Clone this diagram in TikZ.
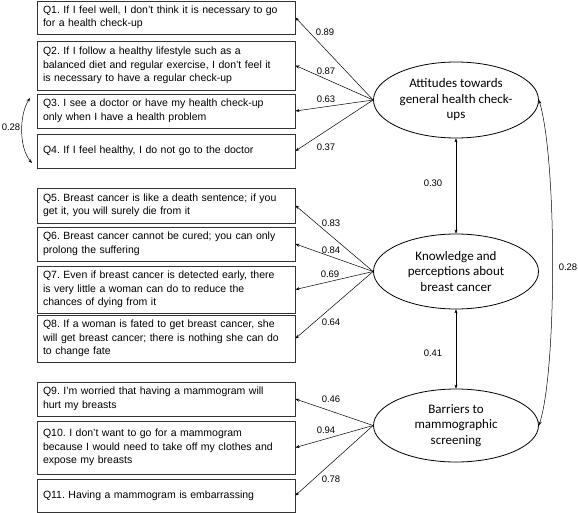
\documentclass[tikz,border=0pt]{standalone}
\usepackage{fontspec}
\setmainfont{Liberation Sans}
\newfontfamily\ellfont{Carlito}
\usetikzlibrary{shapes.geometric,arrows.meta}
\newcommand\qline[1]{\makebox[246pt][l]{#1}}
\begin{document}
\frenchspacing
\begin{tikzpicture}[x=1pt,y=-1pt,
  qbox/.style={draw=black!80,line width=0.9pt,rectangle,inner xsep=6pt,inner ysep=0pt,
    text width=246pt,align=left,minimum width=258pt,font=\fontsize{10.5}{13.5}\selectfont},
  latent/.style={draw=black,line width=0.8pt,ellipse,inner sep=0pt,minimum width=165pt,
    minimum height=76pt,align=center,font=\ellfont\fontsize{13}{15.5}\selectfont},
  arr/.style={-{Stealth[length=4pt,width=3pt]},line width=0.5pt},
  darr/.style={{Stealth[length=4pt,width=3pt]}-{Stealth[length=4pt,width=3pt]},line width=0.5pt},
  lab/.style={font=\fontsize{9.5}{11}\selectfont,inner sep=0pt}]
\useasboundingbox (0,0) rectangle (578,513);
\node[qbox,minimum height=33pt] (q1) at (166,17.5) {\qline{Q1. If I feel well, I don't think it is necessary to go}\\\qline{for a health check-up}};
\node[qbox,minimum height=49pt] (q2) at (166,65.5) {\qline{Q2. If I follow a healthy lifestyle such as a}\\\qline{balanced diet and regular exercise, I don't feel it}\\\qline{is necessary to have a regular check-up}};
\node[qbox,minimum height=34pt] (q3) at (166,111) {\qline{Q3. I see a doctor or have my health check-up}\\\qline{only when I have a health problem}};
\node[qbox,minimum height=34pt] (q4) at (166,151) {\qline{Q4. If I feel healthy, I do not go to the doctor}};
\node[qbox,minimum height=35pt] (q5) at (166,205.5) {\qline{Q5. Breast cancer is like a death sentence; if you}\\\qline{get it, you will surely die from it}};
\node[qbox,minimum height=34pt] (q6) at (166,244) {\qline{Q6. Breast cancer cannot be cured; you can only}\\\qline{prolong the suffering}};
\node[qbox,minimum height=47pt] (q7) at (166,289.5) {\qline{Q7. Even if breast cancer is detected early, there}\\\qline{is very little a woman can do to reduce the}\\\qline{chances of dying from it}};
\node[qbox,minimum height=47pt] (q8) at (166,338.5) {\qline{Q8. If a woman is fated to get breast cancer, she}\\\qline{will get breast cancer; there is nothing she can do}\\\qline{to change fate}};
\node[qbox,minimum height=34pt] (q9) at (166,399) {\qline{Q9. I'm worried that having a mammogram will}\\\qline{hurt my breasts}};
\node[qbox,minimum height=53pt] (q10) at (166,447.5) {\qline{Q10. I don't want to go for a mammogram}\\\qline{because I would need to take off my clothes and}\\\qline{expose my breasts}};
\node[qbox,minimum height=33pt] (q11) at (166,495.5) {\qline{Q11. Having a mammogram is embarrassing}};

\node[latent] (att) at (456,100) {Attitudes towards\\general health check-\\ups};
\node[latent,minimum height=75pt] (kno) at (456,271.5) {Knowledge and\\perceptions about\\breast cancer};
\node[latent,minimum height=73pt] (bar) at (456,425.5) {Barriers to\\mammographic\\screening};

\foreach \q in {q1,q2,q3,q4} \draw[arr] (att.west) -- (\q.east);
\foreach \q in {q5,q6,q7,q8} \draw[arr] (kno.west) -- (\q.east);
\foreach \q in {q9,q10,q11} \draw[arr] (bar.west) -- (\q.east);

\draw[darr] (att.south) -- (kno.north);
\draw[darr] (kno.south) -- (bar.north);
\draw[darr] (att.east) .. controls (557,160) and (557,370) .. (bar.east);

\coordinate (c1) at (30,98);
\coordinate (c2) at (32,163);
\draw[darr] (c1) .. controls (19,115) and (19,148) .. (c2);

\node[lab] (l1) at (325,32) {0.89};
\node[lab] (l2) at (326,71) {0.87};
\node[lab] (l3) at (326,99) {0.63};
\node[lab] (l4) at (326,147) {0.37};
\node[lab] (l5) at (331,223) {0.83};
\node[lab] (l6) at (331,250) {0.84};
\node[lab] (l7) at (330,274) {0.69};
\node[lab] (l8) at (331,322) {0.64};
\node[lab] (l9) at (331,399) {0.46};
\node[lab] (l10) at (326,430) {0.94};
\node[lab] (l11) at (331,479) {0.78};
\node[lab] (r1) at (433,183) {0.30};
\node[lab] (r2) at (433,353) {0.41};
\node[lab] (r3) at (568,267) {0.28};
\node[lab] (r4) at (11,127) {0.28};
\end{tikzpicture}
\end{document}
